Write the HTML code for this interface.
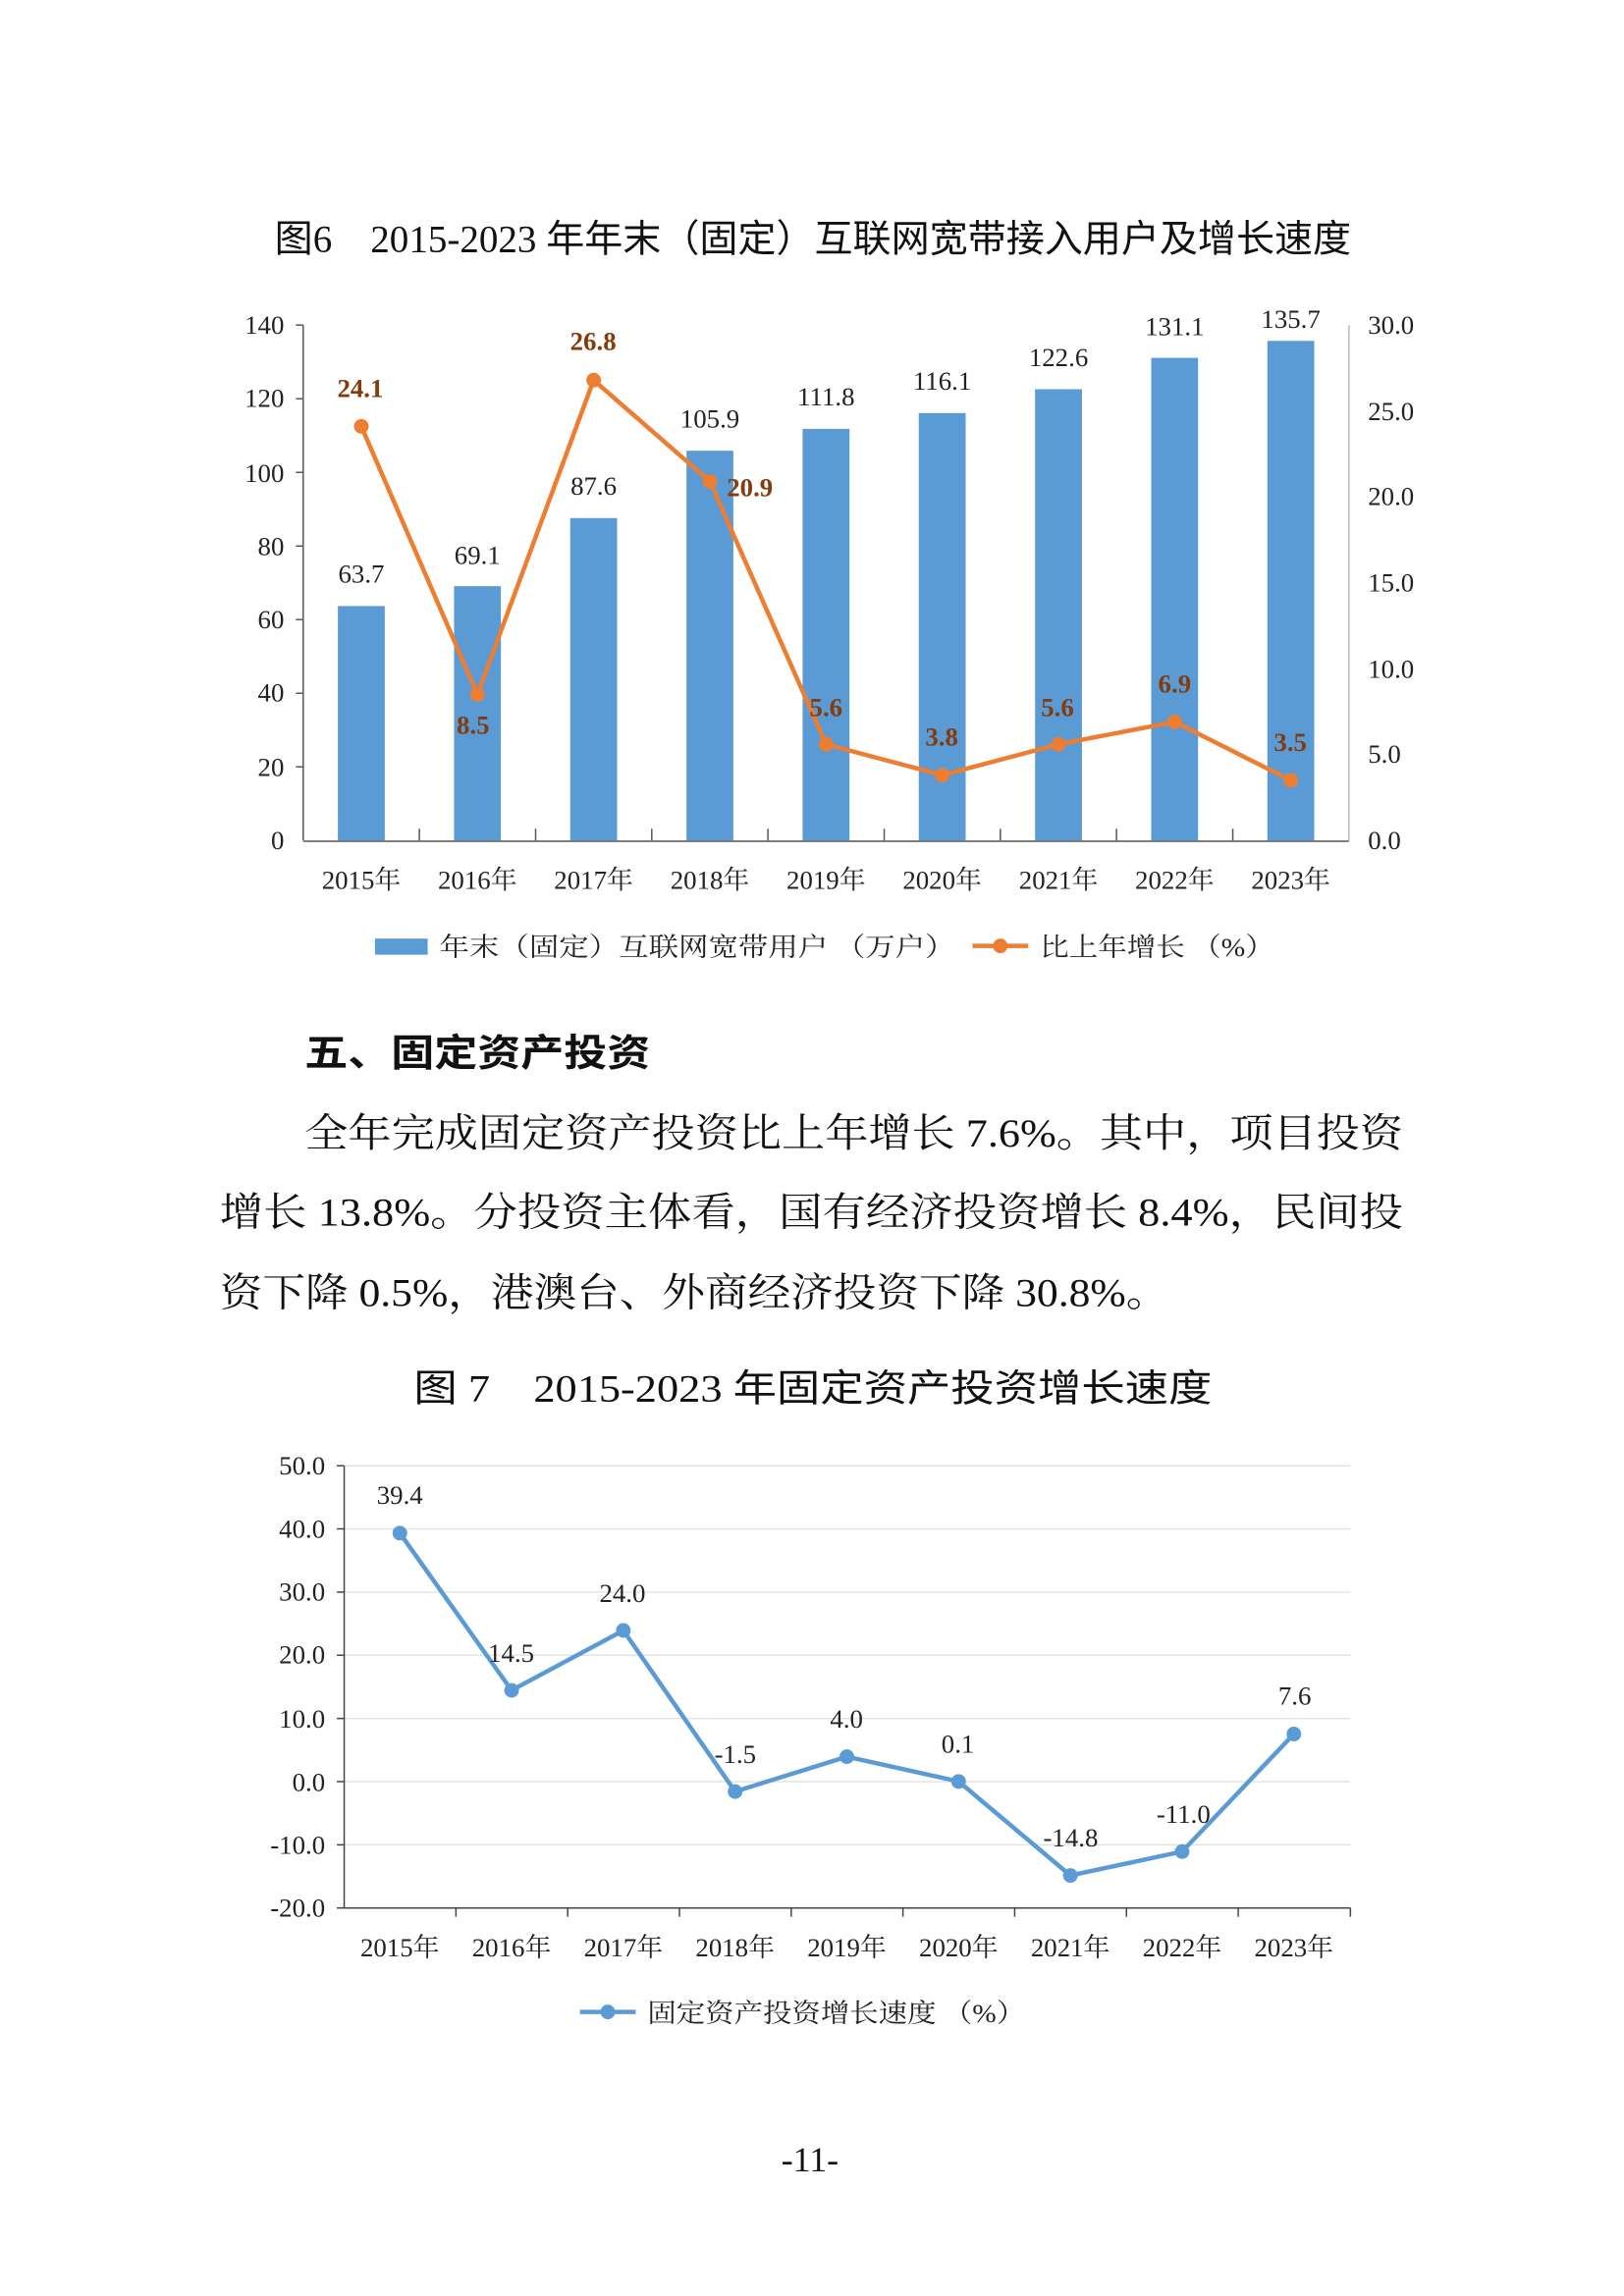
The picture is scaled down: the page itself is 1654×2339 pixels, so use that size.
<!DOCTYPE html>
<html><head><meta charset="utf-8"><style>
html,body{margin:0;padding:0;background:#fff}
svg{display:block}
.s{font-family:"Liberation Serif","Noto Serif CJK SC",serif}
.k{font-family:"Liberation Serif","Noto Sans CJK SC",sans-serif}
</style></head><body>
<svg width="1654" height="2339" viewBox="0 0 1108.8 1568" preserveAspectRatio="none" xmlns="http://www.w3.org/2000/svg">
<rect width="1108.8" height="1568" fill="#fff"/>
<text class="k" x="555" y="172" font-size="26" text-anchor="middle" fill="#111" textLength="735" lengthAdjust="spacingAndGlyphs">图6　2015-2023 年年末（固定）互联网宽带接入用户及增长速度</text>
<g stroke="#555" stroke-width="1">
<line x1="207" y1="222" x2="207" y2="574"/>
<line x1="921" y1="222" x2="921" y2="574" stroke="#bbb"/>
<line x1="207" y1="574.5" x2="921" y2="574.5"/>
<line x1="202" y1="222" x2="207" y2="222"/><line x1="202" y1="272.3" x2="207" y2="272.3"/><line x1="202" y1="322.6" x2="207" y2="322.6"/><line x1="202" y1="372.9" x2="207" y2="372.9"/><line x1="202" y1="423.1" x2="207" y2="423.1"/><line x1="202" y1="473.4" x2="207" y2="473.4"/><line x1="202" y1="523.7" x2="207" y2="523.7"/>
<line x1="286.3" y1="566" x2="286.3" y2="574"/><line x1="365.7" y1="566" x2="365.7" y2="574"/><line x1="445" y1="566" x2="445" y2="574"/><line x1="524.3" y1="566" x2="524.3" y2="574"/><line x1="603.7" y1="566" x2="603.7" y2="574"/><line x1="683" y1="566" x2="683" y2="574"/><line x1="762.3" y1="566" x2="762.3" y2="574"/><line x1="841.7" y1="566" x2="841.7" y2="574"/>
</g>
<g class="s" font-size="18" fill="#222" text-anchor="end">
<text x="194" y="228">140</text><text x="194" y="278">120</text><text x="194" y="329">100</text><text x="194" y="379">80</text><text x="194" y="429">60</text><text x="194" y="479">40</text><text x="194" y="530">20</text><text x="194" y="580">0</text>
</g>
<g class="s" font-size="18" fill="#222">
<text x="934" y="228">30.0</text><text x="934" y="287">25.0</text><text x="934" y="345">20.0</text><text x="934" y="404">15.0</text><text x="934" y="463">10.0</text><text x="934" y="521">5.0</text><text x="934" y="580">0.0</text>
</g>
<g fill="#5b9bd5">
<rect x="230.7" y="413.9" width="32" height="160.1"/>
<rect x="310" y="400.3" width="32" height="173.7"/>
<rect x="389.3" y="353.8" width="32" height="220.2"/>
<rect x="468.7" y="307.8" width="32" height="266.2"/>
<rect x="548" y="292.9" width="32" height="281.1"/>
<rect x="627.3" y="282.1" width="32" height="291.9"/>
<rect x="706.7" y="265.8" width="32" height="308.2"/>
<rect x="786" y="244.4" width="32" height="329.6"/>
<rect x="865.3" y="232.8" width="32" height="341.2"/>
</g>
<g class="s" font-size="18" fill="#222" text-anchor="middle">
<text x="246.7" y="398">63.7</text><text x="326" y="385">69.1</text><text x="405.3" y="338">87.6</text><text x="484.7" y="292">105.9</text><text x="564" y="277">111.8</text><text x="643.3" y="266">116.1</text><text x="722.7" y="250">122.6</text><text x="802" y="229">131.1</text><text x="881.3" y="224">135.7</text>
</g>
<polyline fill="none" stroke="#ed7d31" stroke-width="3" points="246.7,291.2 326,474.3 405.3,259.6 484.7,328.8 564,508.3 643.3,529.4 722.7,508.3 802,493 881.3,532.9"/>
<g fill="#ed7d31">
<circle cx="246.7" cy="291.2" r="5"/><circle cx="326" cy="474.3" r="5"/><circle cx="405.3" cy="259.6" r="5"/><circle cx="484.7" cy="328.8" r="5"/><circle cx="564" cy="508.3" r="5"/><circle cx="643.3" cy="529.4" r="5"/><circle cx="722.7" cy="508.3" r="5"/><circle cx="802" cy="493" r="5"/><circle cx="881.3" cy="532.9" r="5"/>
</g>
<g class="s" font-size="18" font-weight="bold" fill="#843c0c" text-anchor="middle">
<text x="246" y="271">24.1</text><text x="323" y="501">8.5</text><text x="405" y="239">26.8</text><text x="512" y="339">20.9</text><text x="564" y="489">5.6</text><text x="643" y="509">3.8</text><text x="722" y="489">5.6</text><text x="802" y="473">6.9</text><text x="881" y="513">3.5</text>
</g>
<g class="s" font-size="18" fill="#222" text-anchor="middle">
<text x="246.7" y="607">2015年</text><text x="326" y="607">2016年</text><text x="405.3" y="607">2017年</text><text x="484.7" y="607">2018年</text><text x="564" y="607">2019年</text><text x="643.3" y="607">2020年</text><text x="722.7" y="607">2021年</text><text x="802" y="607">2022年</text><text x="881.3" y="607">2023年</text>
</g>
<rect x="256" y="641" width="36" height="11" fill="#5b9bd5"/>
<text class="s" x="300" y="653" font-size="18" fill="#222" textLength="352" lengthAdjust="spacingAndGlyphs">年末（固定）互联网宽带用户 （万户）</text>
<line x1="664" y1="646" x2="702" y2="646" stroke="#ed7d31" stroke-width="3"/><circle cx="683" cy="646" r="5" fill="#ed7d31"/>
<text class="s" x="710" y="653" font-size="18" fill="#222" textLength="160" lengthAdjust="spacingAndGlyphs">比上年增长 （%）</text>
<text class="k" x="208" y="728" font-size="26" font-weight="bold" fill="#111" textLength="236" lengthAdjust="spacingAndGlyphs">五、固定资产投资</text>
<g class="s" font-size="27" fill="#111">
<text x="208" y="783" textLength="750" lengthAdjust="spacingAndGlyphs">全年完成固定资产投资比上年增长 7.6%。其中，项目投资</text>
<text x="150" y="837" textLength="808" lengthAdjust="spacingAndGlyphs">增长 13.8%。分投资主体看，国有经济投资增长 8.4%，民间投</text>
<text x="150" y="892" textLength="648" lengthAdjust="spacingAndGlyphs">资下降 0.5%，港澳台、外商经济投资下降 30.8%。</text>
</g>
<text class="k" x="555" y="957" font-size="26" fill="#111" text-anchor="middle" textLength="545" lengthAdjust="spacingAndGlyphs">图 7　2015-2023 年固定资产投资增长速度</text>
<g stroke="#e3e3e3" stroke-width="1">
<line x1="235" y1="1001" x2="922" y2="1001"/><line x1="235" y1="1044.1" x2="922" y2="1044.1"/><line x1="235" y1="1087.3" x2="922" y2="1087.3"/><line x1="235" y1="1130.4" x2="922" y2="1130.4"/><line x1="235" y1="1173.6" x2="922" y2="1173.6"/><line x1="235" y1="1216.7" x2="922" y2="1216.7"/><line x1="235" y1="1259.9" x2="922" y2="1259.9"/>
</g>
<g stroke="#444" stroke-width="1">
<line x1="235" y1="1001" x2="235" y2="1303"/>
<line x1="235" y1="1303" x2="922" y2="1303"/>
<line x1="230" y1="1001" x2="235" y2="1001"/><line x1="230" y1="1044.1" x2="235" y2="1044.1"/><line x1="230" y1="1087.3" x2="235" y2="1087.3"/><line x1="230" y1="1130.4" x2="235" y2="1130.4"/><line x1="230" y1="1173.6" x2="235" y2="1173.6"/><line x1="230" y1="1216.7" x2="235" y2="1216.7"/><line x1="230" y1="1259.9" x2="235" y2="1259.9"/><line x1="230" y1="1303" x2="235" y2="1303"/>
<line x1="311.3" y1="1303" x2="311.3" y2="1309"/><line x1="387.6" y1="1303" x2="387.6" y2="1309"/><line x1="463.9" y1="1303" x2="463.9" y2="1309"/><line x1="540.2" y1="1303" x2="540.2" y2="1309"/><line x1="616.5" y1="1303" x2="616.5" y2="1309"/><line x1="692.8" y1="1303" x2="692.8" y2="1309"/><line x1="769.1" y1="1303" x2="769.1" y2="1309"/><line x1="845.4" y1="1303" x2="845.4" y2="1309"/><line x1="922" y1="1303" x2="922" y2="1309"/>
</g>
<g class="s" font-size="18" fill="#222" text-anchor="end">
<text x="222" y="1007">50.0</text><text x="222" y="1050">40.0</text><text x="222" y="1093">30.0</text><text x="222" y="1136">20.0</text><text x="222" y="1180">10.0</text><text x="222" y="1223">0.0</text><text x="222" y="1266">-10.0</text><text x="222" y="1309">-20.0</text>
</g>
<polyline fill="none" stroke="#5b9bd5" stroke-width="3" points="273,1047 349.3,1154.4 425.6,1113.5 501.9,1223.5 578.2,1199.7 654.5,1216.6 730.8,1280.8 807.1,1264.5 883.4,1184.2"/>
<g fill="#5b9bd5">
<circle cx="273" cy="1047" r="5"/><circle cx="349.3" cy="1154.4" r="5"/><circle cx="425.6" cy="1113.5" r="5"/><circle cx="501.9" cy="1223.5" r="5"/><circle cx="578.2" cy="1199.7" r="5"/><circle cx="654.5" cy="1216.6" r="5"/><circle cx="730.8" cy="1280.8" r="5"/><circle cx="807.1" cy="1264.5" r="5"/><circle cx="883.4" cy="1184.2" r="5"/>
</g>
<g class="s" font-size="18" fill="#222" text-anchor="middle">
<text x="273" y="1027">39.4</text><text x="349" y="1135">14.5</text><text x="425" y="1094">24.0</text><text x="502" y="1204">-1.5</text><text x="578" y="1180">4.0</text><text x="654" y="1197">0.1</text><text x="731" y="1261">-14.8</text><text x="808" y="1245">-11.0</text><text x="884" y="1164">7.6</text>
</g>
<g class="s" font-size="18" fill="#222" text-anchor="middle">
<text x="273" y="1336">2015年</text><text x="349.3" y="1336">2016年</text><text x="425.6" y="1336">2017年</text><text x="501.9" y="1336">2018年</text><text x="578.2" y="1336">2019年</text><text x="654.5" y="1336">2020年</text><text x="730.8" y="1336">2021年</text><text x="807.1" y="1336">2022年</text><text x="883.4" y="1336">2023年</text>
</g>
<line x1="396" y1="1374" x2="434" y2="1374" stroke="#5b9bd5" stroke-width="3"/><circle cx="415" cy="1374" r="5" fill="#5b9bd5"/>
<text class="s" x="442" y="1381" font-size="18" fill="#222" textLength="258" lengthAdjust="spacingAndGlyphs">固定资产投资增长速度 （%）</text>
<text class="s" x="553" y="1483" font-size="24" fill="#111" text-anchor="middle">-11-</text>
</svg>
</body></html>
